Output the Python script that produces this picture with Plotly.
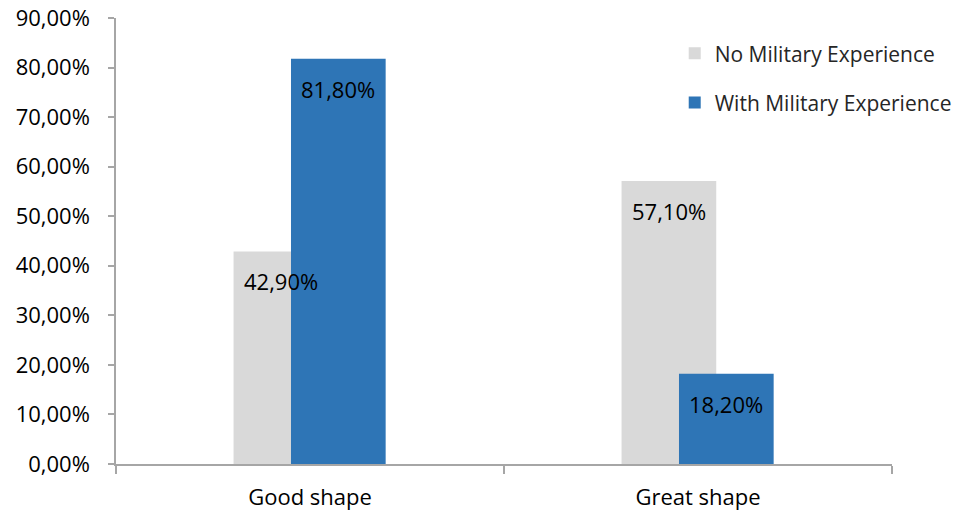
import plotly.graph_objects as go

categories = ["Good shape", "Great shape"]
series_names = ["No Military Experience", "With Military Experience"]
no_military = [0.429, 0.571]
with_military = [0.818, 0.182]
y_ticks = [0, 0.1, 0.2, 0.3, 0.4, 0.5, 0.6, 0.7, 0.8, 0.9]

colors = ["#D9D9D9", "#2E75B6"]
FONT = "Open Sans"
bar_width = 0.244
offsets = [-0.197, -0.049]

x_idx = list(range(len(categories)))

fig = go.Figure()
for name, vals, col, off in zip(series_names, [no_military, with_military], colors, offsets):
    fig.add_trace(go.Bar(
        x=x_idx, y=vals, name=name, marker=dict(color=col, line=dict(width=0)),
        width=bar_width, offset=off, legendgroup=name,
    ))

annotations = []
for vals, off in zip([no_military, with_military], offsets):
    for i, v in zip(x_idx, vals):
        annotations.append(dict(
            x=i + off + bar_width / 2, y=v, xref="x", yref="y",
            text=f"{v*100:.2f}%".replace(".", ","), showarrow=False,
            yanchor="middle", yshift=-30,
            font=dict(family=FONT, size=22, color="#000000"),
        ))

fig.update_layout(
    width=964, height=514,
    margin=dict(l=116, r=72, t=18, b=50, autoexpand=False),
    barmode="overlay",
    plot_bgcolor="white", paper_bgcolor="white",
    separators=", ",
    font=dict(family=FONT, size=22, color="#000000"),
    showlegend=True,
    legend=dict(
        x=0.72, y=0.966, xanchor="left", yanchor="top",
        font=dict(family=FONT, size=21, color="#262626"),
        traceorder="grouped", tracegroupgap=19,
        bgcolor="rgba(0,0,0,0)",
    ),
    annotations=annotations,
)
fig.update_yaxes(
    range=[0, 0.9], tickvals=y_ticks, tickformat=".2%",
    showgrid=False, zeroline=False, automargin=False,
    showline=True, linecolor="#A6A6A6", linewidth=1.5,
    ticks="outside", ticklen=6, tickcolor="#A6A6A6", tickwidth=1.5,
    ticklabelstandoff=14,
    tickfont=dict(family=FONT, size=22, color="#000000"),
)
fig.update_xaxes(
    range=[-0.5, 1.5], tickvals=x_idx, ticktext=categories,
    showgrid=False, zeroline=False, automargin=False,
    showline=True, linecolor="#A6A6A6", linewidth=1.5,
    ticks="",
    minor=dict(tickvals=[-0.5, 0.5, 1.5], ticks="outside", ticklen=8,
               tickcolor="#A6A6A6", tickwidth=1.5, showgrid=False),
    ticklabelstandoff=13,
    tickfont=dict(family=FONT, size=22, color="#000000"),
)

fig.write_html("out.html")
